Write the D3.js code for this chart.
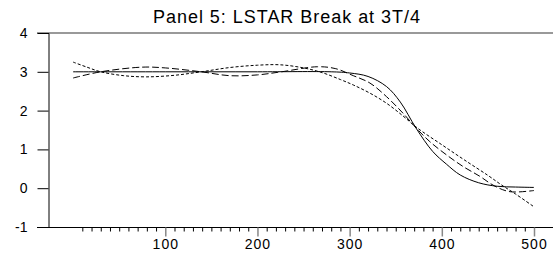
<!DOCTYPE html>
<html>
<head>
<meta charset="utf-8">
<script src="https://cdn.jsdelivr.net/npm/d3@7"></script>
<style>
  body { margin: 0; background: #fff; }
  svg { display: block; font-family: "Liberation Sans", Arial, sans-serif; }
</style>
</head>
<body>
<svg id="chart" width="553" height="257"></svg>
<script>
const title = "Panel 5: LSTAR Break at 3T/4";
const yTicks = [-1, 0, 1, 2, 3, 4];
const xMajor = [100, 200, 300, 400, 500];

// solid: true LSTAR transition
const solidT = [0, 100, 200, 280, 300, 320, 340, 355, 372, 390, 405, 420, 440, 460, 480, 500];
const solidV = [3.0, 3.0, 3.0, 3.0, 2.97, 2.88, 2.62, 2.22, 1.55, 0.95, 0.62, 0.34, 0.14, 0.05, 0.03, 0.02];

// long dash
const longT = [0, 30, 75, 100, 139, 170, 200, 226, 265, 285, 304, 322, 340, 358, 373, 387, 405, 423, 441, 457, 474, 500];
const longV = [2.84, 3.0, 3.12, 3.10, 3.0, 2.90, 2.92, 3.0, 3.13, 3.08, 2.90, 2.71, 2.36, 1.93, 1.53, 1.20, 0.86, 0.56, 0.31, 0.06, -0.09, -0.06];

// short dash
const shortT = [0, 15, 30, 55, 80, 110, 139, 170, 200, 225, 250, 270, 290, 304, 322, 340, 358, 373, 400, 425, 450, 465, 480, 500];
const shortV = [3.25, 3.12, 3.0, 2.90, 2.87, 2.91, 3.0, 3.11, 3.17, 3.18, 3.10, 2.98, 2.80, 2.66, 2.45, 2.19, 1.86, 1.56, 1.12, 0.72, 0.33, 0.08, -0.15, -0.48];

const svg = d3.select("#chart");

const x = d3.scaleLinear().domain([0, 500]).range([73.1, 534]);
const y = d3.scaleLinear().domain([-1, 4]).range([227, 33]);

// title
svg.append("text")
    .attr("x", 153)
    .attr("y", 23)
    .attr("textLength", 267)
    .attr("lengthAdjust", "spacing")
    .style("font-size", "18px")
    .text(title);

// top frame line
svg.append("line")
    .attr("x1", 37).attr("x2", 553)
    .attr("y1", y(4)).attr("y2", y(4))
    .attr("stroke", "#777").attr("stroke-width", 1.5);

// bottom axis line
svg.append("line")
    .attr("x1", 37).attr("x2", 553)
    .attr("y1", y(-1) + 0.5).attr("y2", y(-1) + 0.5)
    .attr("stroke", "#000");

// left axis
const yAxis = d3.axisLeft(y)
    .tickValues(yTicks)
    .tickSize(11)
    .tickPadding(10)
    .tickFormat(d => String(d));

const gY = svg.append("g")
    .attr("transform", "translate(48.5,0)")
    .call(yAxis);
gY.select(".domain").attr("stroke", "#000");
gY.selectAll(".tick line").attr("stroke", "#000");
gY.selectAll(".tick text")
    .style("font-size", "14px")
    .attr("fill", "#000");
gY.selectAll(".tick").filter(d => d === 4).select("line").remove();

// bottom axis ticks
const xAxis = d3.axisBottom(x)
    .tickValues(d3.range(10, 510, 10))
    .tickSize(4)
    .tickPadding(8)
    .tickFormat(d => xMajor.includes(d) ? String(d) : "");

const gX = svg.append("g")
    .attr("transform", `translate(0,${y(-1) + 0.5})`)
    .call(xAxis);
gX.select(".domain").remove();
gX.selectAll(".tick line").attr("stroke", "#000");
gX.selectAll(".tick").filter(d => xMajor.includes(d)).select("line")
    .attr("y2", 9).attr("stroke", "#888").attr("stroke-width", 1.5);
gX.selectAll(".tick text")
    .style("font-size", "14px")
    .style("letter-spacing", "1px")
    .attr("fill", "#000");

// series lines
const line = d3.line()
    .x(d => x(d[0]))
    .y(d => y(d[1]))
    .curve(d3.curveCatmullRom.alpha(0.5));

function addSeries(ts, vs, dash) {
    svg.append("path")
        .datum(ts.map((t, i) => [t, vs[i]]))
        .attr("d", line)
        .attr("fill", "none")
        .attr("stroke", "#000")
        .attr("stroke-width", 1)
        .attr("stroke-dasharray", dash);
}

addSeries(solidT, solidV, null);
addSeries(longT, longV, "7,3");
addSeries(shortT, shortV, "3,2");
</script>
</body>
</html>
